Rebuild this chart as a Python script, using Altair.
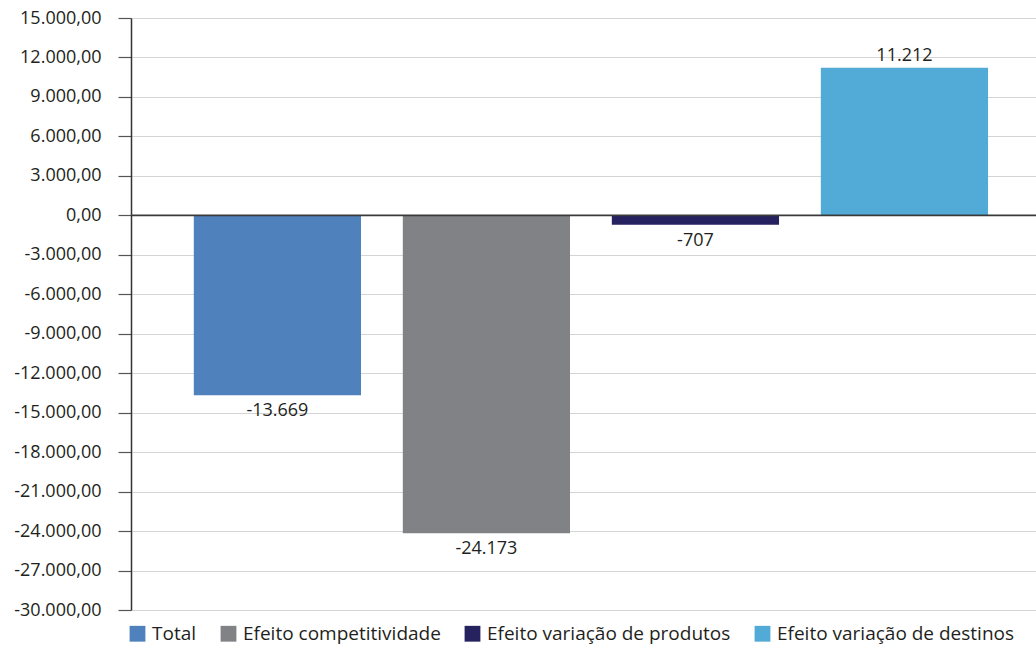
import altair as alt
import pandas as pd

# Decomposition effects (values as labelled)
categories = ["Total", "Efeito competitividade", "Efeito variação de produtos", "Efeito variação de destinos"]
values = [-13669, -24173, -707, 11212]
colors = ["#4F81BD", "#818285", "#26215F", "#52AAD6"]
y_ticks = list(range(-30000, 15001, 3000))

df = pd.DataFrame({"categoria": categories, "valor": values})
df["pos"] = df["valor"] >= 0

FONT = "Open Sans"
TEXT_COLOR = "#231f20"
FS = 18

y_scale = alt.Scale(domain=[-30000, 15000], nice=False, zero=False)
y_axis = alt.Axis(
    values=y_ticks,
    format=",.2f",
    title=None,
    grid=True,
    gridColor="#d4d4d4",
    gridWidth=1,
    domain=True,
    domainColor="#333333",
    domainWidth=1.5,
    tickColor="#555555",
    tickSize=13,
    tickWidth=1.2,
    labelFont=FONT,
    labelFontSize=FS,
    labelColor=TEXT_COLOR,
    labelPadding=17,
    labelOverlap=False,
    labelLimit=0,
)

x_enc = alt.X(
    "categoria:N",
    sort=categories,
    axis=None,
    scale=alt.Scale(paddingInner=0.2, paddingOuter=0.265, align=0.567),
)

bars = alt.Chart(df).mark_bar().encode(
    x=x_enc,
    y=alt.Y("valor:Q", scale=y_scale, axis=y_axis),
    color=alt.Color(
        "categoria:N",
        sort=categories,
        scale=alt.Scale(domain=categories, range=colors),
        legend=alt.Legend(
            title=None,
            orient="none",
            direction="horizontal",
            legendX=-3,
            legendY=606,
            symbolType="square",
            symbolSize=250,
            symbolStrokeWidth=0,
            labelFont=FONT,
            labelFontSize=19,
            labelColor=TEXT_COLOR,
            labelLimit=0,
            columnPadding=22,
            labelOffset=5,
        ),
    ),
)

zero_line = alt.Chart(pd.DataFrame({"z": [0]})).mark_rule(color="#3a3a3a", strokeWidth=1.6).encode(
    y=alt.Y("z:Q", scale=y_scale, axis=y_axis)
)

labels_neg = alt.Chart(df[~df["pos"]]).mark_text(
    baseline="top", dy=7, font=FONT, fontSize=FS, color=TEXT_COLOR
).encode(
    x=x_enc,
    y=alt.Y("valor:Q", scale=y_scale, axis=y_axis),
    text=alt.Text("valor:Q", format=",.0f"),
)

labels_pos = alt.Chart(df[df["pos"]]).mark_text(
    baseline="bottom", dy=-3, font=FONT, fontSize=FS, color=TEXT_COLOR
).encode(
    x=x_enc,
    y=alt.Y("valor:Q", scale=y_scale, axis=y_axis),
    text=alt.Text("valor:Q", format=",.0f"),
)

chart = (
    alt.layer(bars, zero_line, labels_neg, labels_pos)
    .properties(
        width=905,
        height=592,
        autosize=alt.AutoSizeParams(type="none"),
        padding={"left": 131, "top": 18, "right": 0, "bottom": 37},
    )
    .configure(
        locale={
            "number": {
                "decimal": ",",
                "thousands": ".",
                "grouping": [3],
                "currency": ["R$", ""],
                "minus": "-",
            }
        }
    )
    .configure_view(stroke=None)
)

chart.save("out.html", embed_options={"renderer": "svg", "actions": False})
